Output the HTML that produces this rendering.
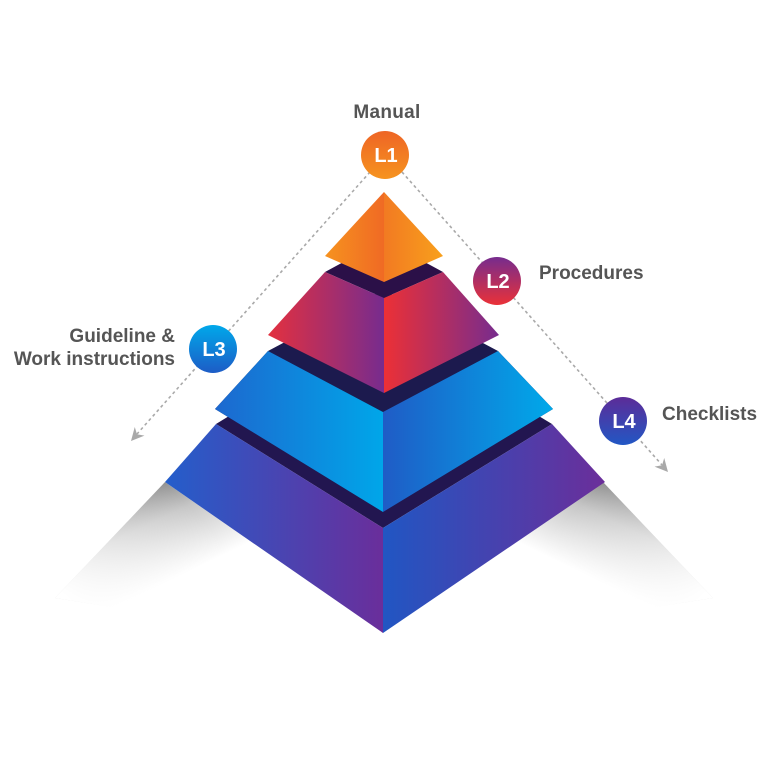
<!DOCTYPE html>
<html>
<head>
<meta charset="utf-8">
<style>
  html,body{margin:0;padding:0;background:#fff;}
  svg{display:block;}
  text{font-family:"Liberation Sans", Arial, sans-serif;font-weight:bold;}
</style>
</head>
<body>
<svg width="768" height="768" viewBox="0 0 768 768" xmlns="http://www.w3.org/2000/svg">
  <defs>
    <!-- shadows -->
    <linearGradient id="shL" gradientUnits="userSpaceOnUse" x1="163" y1="482" x2="203" y2="565">
      <stop offset="0" stop-color="#909090"/>
      <stop offset="0.35" stop-color="#c6c6c6"/>
      <stop offset="1" stop-color="#ffffff"/>
    </linearGradient>
    <linearGradient id="shR" gradientUnits="userSpaceOnUse" x1="605" y1="482" x2="565" y2="565">
      <stop offset="0" stop-color="#909090"/>
      <stop offset="0.35" stop-color="#c6c6c6"/>
      <stop offset="1" stop-color="#ffffff"/>
    </linearGradient>
    <linearGradient id="fadeL" gradientUnits="userSpaceOnUse" x1="163" y1="482" x2="60" y2="592">
      <stop offset="0" stop-color="#fff" stop-opacity="0"/>
      <stop offset="1" stop-color="#fff" stop-opacity="1"/>
    </linearGradient>
    <linearGradient id="fadeR" gradientUnits="userSpaceOnUse" x1="605" y1="482" x2="708" y2="592">
      <stop offset="0" stop-color="#fff" stop-opacity="0"/>
      <stop offset="1" stop-color="#fff" stop-opacity="1"/>
    </linearGradient>

    <!-- tier 1 orange -->
    <linearGradient id="t1L" gradientUnits="userSpaceOnUse" x1="325" y1="0" x2="384" y2="0">
      <stop offset="0" stop-color="#f6921f"/>
      <stop offset="1" stop-color="#f06a24"/>
    </linearGradient>
    <linearGradient id="t1R" gradientUnits="userSpaceOnUse" x1="384" y1="0" x2="443" y2="0">
      <stop offset="0" stop-color="#f27a22"/>
      <stop offset="1" stop-color="#f8a01c"/>
    </linearGradient>
    <!-- tier 2 red/purple -->
    <linearGradient id="t2L" gradientUnits="userSpaceOnUse" x1="268" y1="0" x2="384" y2="0">
      <stop offset="0" stop-color="#e3303f"/>
      <stop offset="1" stop-color="#772c8e"/>
    </linearGradient>
    <linearGradient id="t2R" gradientUnits="userSpaceOnUse" x1="384" y1="0" x2="499" y2="0">
      <stop offset="0" stop-color="#ec3036"/>
      <stop offset="1" stop-color="#772c8e"/>
    </linearGradient>
    <!-- tier 3 blue -->
    <linearGradient id="t3L" gradientUnits="userSpaceOnUse" x1="215" y1="0" x2="383" y2="0">
      <stop offset="0" stop-color="#1d68cf"/>
      <stop offset="1" stop-color="#00a6e9"/>
    </linearGradient>
    <linearGradient id="t3R" gradientUnits="userSpaceOnUse" x1="383" y1="0" x2="553" y2="0">
      <stop offset="0" stop-color="#1f5cc6"/>
      <stop offset="1" stop-color="#00a9ea"/>
    </linearGradient>
    <!-- tier 4 blue/purple -->
    <linearGradient id="t4L" gradientUnits="userSpaceOnUse" x1="165" y1="0" x2="383" y2="0">
      <stop offset="0" stop-color="#245ecb"/>
      <stop offset="1" stop-color="#6a2e9b"/>
    </linearGradient>
    <linearGradient id="t4R" gradientUnits="userSpaceOnUse" x1="383" y1="0" x2="605" y2="0">
      <stop offset="0" stop-color="#2156c3"/>
      <stop offset="1" stop-color="#6b2e9a"/>
    </linearGradient>

    <!-- circles -->
    <linearGradient id="c1" x1="0" y1="0" x2="0" y2="1">
      <stop offset="0" stop-color="#ee6525"/>
      <stop offset="1" stop-color="#f6931f"/>
    </linearGradient>
    <linearGradient id="c2" x1="0" y1="0" x2="0" y2="1">
      <stop offset="0" stop-color="#762c8e"/>
      <stop offset="1" stop-color="#ea3138"/>
    </linearGradient>
    <linearGradient id="c3" x1="0" y1="0" x2="0" y2="1">
      <stop offset="0" stop-color="#00a8ea"/>
      <stop offset="1" stop-color="#1d5cc6"/>
    </linearGradient>
    <linearGradient id="c4" x1="0" y1="0" x2="0" y2="1">
      <stop offset="0" stop-color="#5c2c98"/>
      <stop offset="1" stop-color="#2257c4"/>
    </linearGradient>
  </defs>

  <!-- shadows -->
  <polygon points="165,482 55,598 383,650 383,633" fill="url(#shL)"/>
  <polygon points="165,482 55,598 383,650 383,633" fill="url(#fadeL)"/>
  <polygon points="603,482 713,598 383,650 383,633" fill="url(#shR)"/>
  <polygon points="603,482 713,598 383,650 383,633" fill="url(#fadeR)"/>

  <!-- dotted connectors -->
  <g stroke="#a9a9a9" stroke-width="1.6" stroke-dasharray="3 3" fill="none">
    <line x1="386" y1="154" x2="137" y2="434"/>
    <line x1="386" y1="154" x2="662" y2="465"/>
  </g>
  <g fill="#a9a9a9">
    <path d="M0,0 L-13,-6.5 L-9,0 L-13,6.5 Z" transform="translate(131,441) rotate(131.6)"/>
    <path d="M0,0 L-13,-6.5 L-9,0 L-13,6.5 Z" transform="translate(668,472) rotate(48.4)"/>
  </g>

  <!-- tier 4 -->
  <polygon points="216,424 383,322 552,424 383,528" fill="#221650"/>
  <polygon points="216,424 383,528 383,633 165,482" fill="url(#t4L)"/>
  <polygon points="383,528 552,424 605,482 383,633" fill="url(#t4R)"/>

  <!-- tier 3 -->
  <polygon points="215,409 268,351 498,351 553,409 383,512" fill="#1c1a4e"/>
  <polygon points="268,351 383,290 498,351 383,412" fill="#1c1a4e"/>
  <polygon points="268,351 383,412 383,512 215,409" fill="url(#t3L)"/>
  <polygon points="383,412 498,351 553,409 383,512" fill="url(#t3R)"/>

  <!-- tier 2 -->
  <polygon points="325,272 384,240 443,272 384,298" fill="#2b1048"/>
  <polygon points="325,272 384,298 384,393 268,335" fill="url(#t2L)"/>
  <polygon points="384,298 443,272 499,335 384,393" fill="url(#t2R)"/>

  <!-- tier 1 -->
  <polygon points="384,192 325,256 384,282" fill="url(#t1L)"/>
  <polygon points="384,192 443,256 384,282" fill="url(#t1R)"/>

  <!-- circles -->
  <circle cx="385" cy="155" r="24" fill="url(#c1)"/>
  <circle cx="497" cy="281" r="24" fill="url(#c2)"/>
  <circle cx="213" cy="349" r="24" fill="url(#c3)"/>
  <circle cx="623" cy="421" r="24" fill="url(#c4)"/>

  <g fill="#ffffff" font-size="20" text-anchor="middle">
    <text x="386" y="162">L1</text>
    <text x="498" y="288">L2</text>
    <text x="214" y="356">L3</text>
    <text x="624" y="428">L4</text>
  </g>

  <!-- labels -->
  <g fill="#555555" font-size="19">
    <text x="387" y="118" text-anchor="middle" letter-spacing="0.3">Manual</text>
    <text x="539" y="279">Procedures</text>
    <text x="175" y="342" text-anchor="end">Guideline &amp;</text>
    <text x="175" y="365" text-anchor="end">Work instructions</text>
    <text x="662" y="420">Checklists</text>
  </g>
</svg>
</body>
</html>
